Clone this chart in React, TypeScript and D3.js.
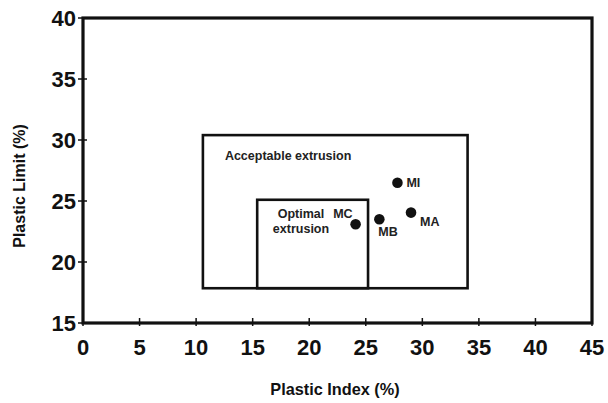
import React from "react";
import * as d3 from "d3";

// Extrusion windows (Plastic Index range x Plastic Limit range)
const zoneNames = ["Acceptable extrusion", "Optimal extrusion"];
const zoneX0 = [10.6, 15.4];
const zoneX1 = [34.0, 25.2];
const zoneY0 = [17.85, 17.85];
const zoneY1 = [30.4, 25.1];

// Mixtures
const mixNames = ["MI", "MA", "MB", "MC"];
const mixIndex = [27.8, 29.0, 26.2, 24.1];
const mixLimit = [26.5, 24.05, 23.5, 23.1];

const xTicks = [0, 5, 10, 15, 20, 25, 30, 35, 40, 45];
const yTicks = [15, 20, 25, 30, 35, 40];

const W = 608;
const H = 403;
const FONT = "'Liberation Sans', Arial, Helvetica, sans-serif";

export default function App() {
  const x = d3.scaleLinear().domain([0, 45]).range([83, 592]);
  const y = d3.scaleLinear().domain([15, 40]).range([323, 18]);

  // label offsets relative to each point (dx, dy to baseline, anchor)
  const labelPos: Record<string, [number, number, string]> = {
    MI: [9, 4, "start"],
    MA: [9, 13, "start"],
    MB: [-1, 17, "start"],
    MC: [-3, -6, "end"],
  };

  return (
    <div style={{ position: "absolute", left: 0, top: 0 }}>
      <svg width={W} height={H} style={{ display: "block", background: "#fff" }}>
        {/* zones */}
        {zoneNames.map((n, i) => (
          <rect
            key={n}
            x={x(zoneX0[i])}
            y={y(zoneY1[i])}
            width={x(zoneX1[i]) - x(zoneX0[i])}
            height={y(zoneY0[i]) - y(zoneY1[i])}
            fill="none"
            stroke="#111"
            strokeWidth={2.6}
          />
        ))}
        <text x={x(zoneX0[0]) + 22} y={y(zoneY1[0]) + 25} fontFamily={FONT} fontWeight="bold" fontSize={12.5} fill="#222">
          {zoneNames[0]}
        </text>
        <text fontFamily={FONT} fontWeight="bold" fontSize={12.5} fill="#222" textAnchor="middle">
          <tspan x={301} y={y(zoneY1[1]) + 18}>Optimal</tspan>
          <tspan x={301} y={y(zoneY1[1]) + 33}>extrusion</tspan>
        </text>

        {/* frame */}
        <rect x={x(0)} y={y(40)} width={x(45) - x(0)} height={y(15) - y(40)} fill="none" stroke="#111" strokeWidth={3.2} />

        {/* ticks */}
        {xTicks.map((t) => (
          <g key={"x" + t}>
            <line x1={x(t)} x2={x(t)} y1={y(15) - 5} y2={y(15) + 3} stroke="#111" strokeWidth={1.5} />
            <text x={x(t)} y={355} textAnchor="middle" fontFamily={FONT} fontWeight="bold" fontSize={22} fill="#111">
              {t}
            </text>
          </g>
        ))}
        {yTicks.map((t) => (
          <g key={"y" + t}>
            <line x1={x(0) - 5} x2={x(0) + 4} y1={y(t)} y2={y(t)} stroke="#111" strokeWidth={1.5} />
            <text x={x(0) - 7} y={y(t) + 8} textAnchor="end" fontFamily={FONT} fontWeight="bold" fontSize={22} fill="#111">
              {t}
            </text>
          </g>
        ))}

        {/* points */}
        {mixNames.map((n, i) => {
          const cx = x(mixIndex[i]);
          const cy = y(mixLimit[i]);
          const [dx, dy, anchor] = labelPos[n];
          return (
            <g key={n}>
              <circle cx={cx} cy={cy} r={5.3} fill="#111" />
              <text x={cx + dx} y={cy + dy} textAnchor={anchor as any} fontFamily={FONT} fontWeight="bold" fontSize={12.5} fill="#222">
                {n}
              </text>
            </g>
          );
        })}

        {/* axis titles */}
        <text x={335} y={395} textAnchor="middle" fontFamily={FONT} fontWeight="bold" fontSize={16.3} fill="#111">
          Plastic Index (%)
        </text>
        <text
          transform={`translate(25, 186) rotate(-90)`}
          textAnchor="middle"
          fontFamily={FONT}
          fontWeight="bold"
          fontSize={16}
          fill="#111"
        >
          Plastic Limit (%)
        </text>
      </svg>
    </div>
  );
}
